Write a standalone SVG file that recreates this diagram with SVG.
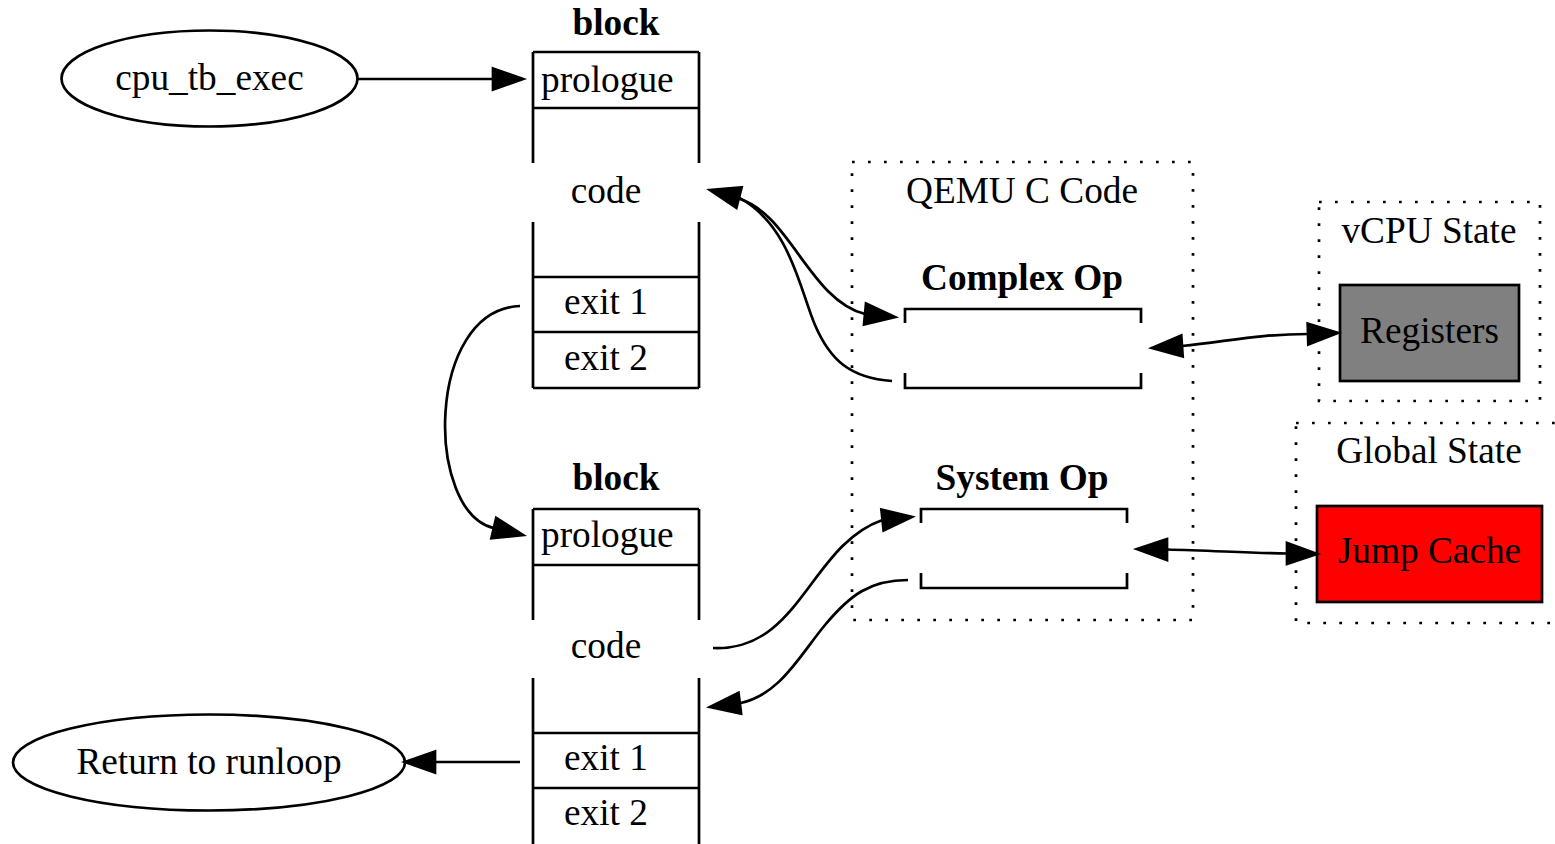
<svg xmlns="http://www.w3.org/2000/svg" width="1555" height="844" viewBox="0 0 1555 844">
  <style>
    text { font-family: "Liberation Serif", "Times New Roman", serif; font-size: 37.3px; fill: #000; }
    .b { font-weight: bold; }
    .m { text-anchor: middle; }
    .ln { stroke: #000; stroke-width: 2.7; fill: none; }
    .cl { stroke: #000; stroke-width: 2.7; fill: none; stroke-dasharray: 2.7 13.3; }
    .edge { stroke: #000; stroke-width: 2.7; fill: none; }
    .head { fill: #000; stroke: #000; stroke-width: 2.7; stroke-linejoin: miter; }
  </style>
  <rect width="1555" height="844" fill="#fff"/>

  <!-- clusters -->
  <g id="cluster_qemu">
    <rect class="cl" x="852" y="162" width="341" height="458"/>
    <text class="m" x="1022" y="203">QEMU C Code</text>
  </g>
  <g id="cluster_vcpu">
    <rect class="cl" x="1319" y="202" width="221" height="199"/>
    <text class="m" x="1429" y="243">vCPU State</text>
  </g>
  <g id="cluster_global">
    <rect class="cl" x="1296" y="423" width="267" height="200"/>
    <text class="m" x="1429" y="463">Global State</text>
  </g>

  <!-- nodes -->
  <g id="cpu_tb_exec">
    <ellipse class="ln" cx="209.5" cy="78.5" rx="148" ry="48"/>
    <text class="m" x="209.5" y="90">cpu_tb_exec</text>
  </g>

  <g id="block1">
    <text class="m b" x="616" y="35">block</text>
    <path class="ln" d="M533,52 H699 M533,108 H699 M533,52 V163 M699,52 V163 M533,222 V388 M699,222 V388 M533,277 H699 M533,332 H699 M533,388 H699"/>
    <text x="541" y="92">prologue</text>
    <text class="m" x="606" y="203">code</text>
    <text class="m" x="606" y="314">exit 1</text>
    <text class="m" x="606" y="370">exit 2</text>
  </g>

  <g id="block2">
    <text class="m b" x="616" y="490">block</text>
    <path class="ln" d="M533,509 H699 M533,565 H699 M533,509 V620 M699,509 V620 M533,678 V850 M699,678 V850 M533,733 H699 M533,788 H699"/>
    <text x="541" y="547">prologue</text>
    <text class="m" x="606" y="658">code</text>
    <text class="m" x="606" y="770">exit 1</text>
    <text class="m" x="606" y="825">exit 2</text>
  </g>

  <g id="return_runloop">
    <ellipse class="ln" cx="209" cy="762.5" rx="196" ry="48"/>
    <text class="m" x="209" y="774">Return to runloop</text>
  </g>

  <g id="complex_op">
    <text class="m b" x="1022" y="290">Complex Op</text>
    <path class="ln" d="M905,323 V309 H1141 V323 M905,373 V388 H1141 V373"/>
  </g>

  <g id="system_op">
    <text class="m b" x="1022" y="490">System Op</text>
    <path class="ln" d="M921,523 V509 H1127 V523 M921,573 V588 H1127 V573"/>
  </g>

  <g id="registers">
    <rect x="1340" y="285" width="179" height="96" fill="#808080" stroke="#000" stroke-width="2.7"/>
    <text class="m" x="1429.5" y="343">Registers</text>
  </g>

  <g id="jump_cache">
    <rect x="1317" y="506" width="225" height="96" fill="#ff0000" stroke="#000" stroke-width="2.7"/>
    <text class="m" x="1429.5" y="563">Jump Cache</text>
  </g>

  <!-- connectors -->
  <g id="edges">
    <!-- cpu_tb_exec -> block1 prologue -->
    <path class="edge" d="M358,79 H493"/>
    <polygon class="head" points="493,68.5 523,79 493,89.5"/>

    <!-- block1 exit 1 -> block2 prologue -->
    <path class="edge" d="M520,306 C425,310 425,512 493.8,528.1"/>
    <polygon class="head" points="496.2,517.9 523,535 491.4,538.3"/>

    <!-- block1 code -> Complex Op -->
    <path class="edge" d="M740,199 C790,215 810,300 865,314"/>
    <polygon class="head" points="866,303.6 895,317 864,324.4"/>

    <!-- Complex Op -> block1 code -->
    <path class="edge" d="M892,381 C850,378 830,360 815,325 C800,290 790,225 739,197.6"/>
    <polygon class="head" points="741.6,187.4 710,190 736.4,207.8"/>

    <!-- Complex Op <-> Registers -->
    <path class="edge" d="M1182,346 C1230,341 1260,334 1308,334"/>
    <polygon class="head" points="1181.3,335.5 1152,348 1182.7,356.5"/>
    <polygon class="head" points="1308.3,344.5 1338,333 1307.7,323.5"/>

    <!-- block2 code -> System Op -->
    <path class="edge" d="M713,648 C800,652 810,545 882.5,520"/>
    <polygon class="head" points="881.4,509.6 912,517 883.6,530.4"/>

    <!-- System Op -> block2 code -->
    <path class="edge" d="M908,580 C870,580 850,595 825,625 C800,655 780,695 739.8,703.2"/>
    <polygon class="head" points="741.1,713.6 710,707 738.5,692.8"/>

    <!-- System Op <-> Jump Cache -->
    <path class="edge" d="M1167,549.5 C1210,550.5 1250,553 1287,553.5"/>
    <polygon class="head" points="1167,539 1137,549 1167,560"/>
    <polygon class="head" points="1287,564 1317,554 1287,543"/>

    <!-- block2 exit 1 -> Return to runloop -->
    <path class="edge" d="M520,762 H435"/>
    <polygon class="head" points="435,751.5 405,762 435,772.5"/>
  </g>
</svg>
